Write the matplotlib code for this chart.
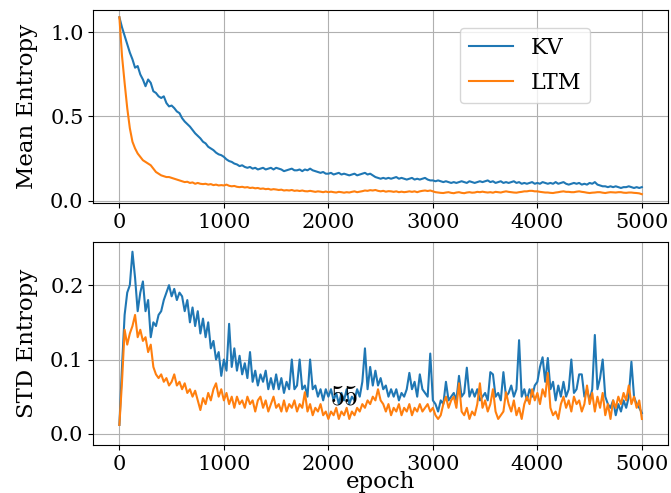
import numpy as np
import matplotlib
matplotlib.use("Agg")
import matplotlib.pyplot as plt

plt.rcParams["font.family"] = ["DejaVu Serif"]
plt.rcParams["font.size"] = 15
plt.rcParams["mathtext.fontset"] = "cm"

# Training curves, logged every 25 epochs
epochs = np.arange(0, 5001, 25)

mean_kv = [
    1.09, 1.03, 0.98, 0.93, 0.88, 0.84, 0.79, 0.80, 0.75, 0.72,
    0.68, 0.72, 0.70, 0.65, 0.64, 0.62, 0.61, 0.62, 0.58, 0.56,
    0.565, 0.55, 0.53, 0.52, 0.49, 0.47, 0.455, 0.44, 0.42, 0.40,
    0.385, 0.37, 0.35, 0.34, 0.32, 0.31, 0.30, 0.285, 0.275, 0.27,
    0.26, 0.245, 0.235, 0.23, 0.22, 0.215, 0.205, 0.21, 0.20, 0.195,
    0.20, 0.19, 0.195, 0.185, 0.19, 0.195, 0.185, 0.19, 0.195, 0.185,
    0.195, 0.19, 0.185, 0.175, 0.18, 0.185, 0.19, 0.18, 0.18, 0.185,
    0.175, 0.185, 0.18, 0.19, 0.18, 0.175, 0.17, 0.165, 0.17, 0.16,
    0.16, 0.165, 0.155, 0.16, 0.165, 0.155, 0.16, 0.155, 0.15, 0.155,
    0.16, 0.15, 0.155, 0.16, 0.165, 0.155, 0.16, 0.15, 0.14, 0.135,
    0.13, 0.135, 0.13, 0.135, 0.13, 0.135, 0.14, 0.13, 0.135, 0.13,
    0.125, 0.13, 0.135, 0.125, 0.13, 0.125, 0.13, 0.135, 0.125, 0.12,
    0.12, 0.115, 0.12, 0.115, 0.11, 0.115, 0.11, 0.105, 0.11, 0.105,
    0.11, 0.115, 0.11, 0.105, 0.115, 0.11, 0.105, 0.11, 0.115, 0.11,
    0.115, 0.12, 0.11, 0.115, 0.105, 0.11, 0.115, 0.105, 0.11, 0.105,
    0.11, 0.115, 0.105, 0.11, 0.10, 0.105, 0.10, 0.105, 0.11, 0.10,
    0.105, 0.10, 0.11, 0.105, 0.10, 0.105, 0.10, 0.11, 0.10, 0.105,
    0.11, 0.10, 0.095, 0.10, 0.105, 0.10, 0.105, 0.095, 0.10, 0.095,
    0.105, 0.10, 0.11, 0.095, 0.09, 0.085, 0.085, 0.08, 0.085, 0.08,
    0.085, 0.08, 0.075, 0.08, 0.08, 0.085, 0.08, 0.075, 0.08, 0.075,
    0.08,
]
mean_ltm = [
    1.09, 0.86, 0.70, 0.55, 0.43, 0.35, 0.31, 0.28, 0.26, 0.24,
    0.23, 0.22, 0.21, 0.19, 0.17, 0.16, 0.15, 0.145, 0.14, 0.14,
    0.135, 0.13, 0.125, 0.12, 0.115, 0.11, 0.112, 0.105, 0.108, 0.10,
    0.105, 0.10, 0.098, 0.10, 0.095, 0.098, 0.092, 0.095, 0.09, 0.092,
    0.09, 0.095, 0.088, 0.085, 0.087, 0.082, 0.08, 0.082, 0.078, 0.08,
    0.075, 0.077, 0.073, 0.075, 0.07, 0.072, 0.068, 0.07, 0.065, 0.068,
    0.066, 0.063, 0.065, 0.06, 0.062, 0.06, 0.063, 0.058, 0.06, 0.057,
    0.06, 0.056, 0.055, 0.058, 0.055, 0.052, 0.055, 0.053, 0.05, 0.054,
    0.05, 0.053, 0.05, 0.048, 0.052, 0.05, 0.047, 0.05, 0.048, 0.052,
    0.055, 0.05, 0.053, 0.056, 0.06, 0.058, 0.062, 0.06, 0.063, 0.058,
    0.055, 0.058, 0.053, 0.056, 0.055, 0.052, 0.055, 0.05, 0.053, 0.05,
    0.052, 0.055, 0.052, 0.055, 0.05, 0.055, 0.058, 0.06, 0.057, 0.06,
    0.055, 0.05, 0.048, 0.046, 0.045, 0.048, 0.05, 0.046, 0.044, 0.048,
    0.05, 0.046, 0.044, 0.048, 0.05, 0.047, 0.048, 0.052, 0.05, 0.053,
    0.05, 0.048, 0.05, 0.047, 0.052, 0.05, 0.048, 0.052, 0.055, 0.052,
    0.05, 0.048, 0.047, 0.05, 0.052, 0.055, 0.055, 0.058, 0.058, 0.055,
    0.055, 0.052, 0.05, 0.048, 0.048, 0.046, 0.045, 0.048, 0.05, 0.053,
    0.055, 0.052, 0.052, 0.05, 0.05, 0.053, 0.055, 0.052, 0.05, 0.047,
    0.045, 0.047, 0.048, 0.05, 0.05, 0.047, 0.045, 0.048, 0.05, 0.049,
    0.048, 0.05, 0.05, 0.047, 0.046, 0.048, 0.048, 0.046, 0.045, 0.043,
    0.038,
]

std_kv = [
    0.012, 0.09, 0.16, 0.19, 0.20, 0.245, 0.21, 0.165, 0.19, 0.205,
    0.165, 0.18, 0.13, 0.15, 0.145, 0.16, 0.165, 0.18, 0.19, 0.20,
    0.185, 0.195, 0.18, 0.19, 0.185, 0.165, 0.18, 0.15, 0.17, 0.145,
    0.165, 0.135, 0.155, 0.13, 0.15, 0.115, 0.125, 0.10, 0.11, 0.078,
    0.10, 0.085, 0.148, 0.09, 0.115, 0.085, 0.105, 0.08, 0.095, 0.075,
    0.11, 0.07, 0.085, 0.065, 0.08, 0.07, 0.085, 0.06, 0.075, 0.06,
    0.08, 0.06, 0.075, 0.055, 0.07, 0.06, 0.10, 0.06, 0.065, 0.10,
    0.06, 0.065, 0.05, 0.10, 0.06, 0.065, 0.05, 0.06, 0.045, 0.06,
    0.05, 0.06, 0.045, 0.055, 0.04, 0.055, 0.045, 0.06, 0.04, 0.05,
    0.045, 0.06, 0.05, 0.07, 0.115, 0.06, 0.09, 0.065, 0.085, 0.065,
    0.075, 0.06, 0.065, 0.05, 0.06, 0.05, 0.06, 0.045, 0.055, 0.05,
    0.06, 0.082, 0.06, 0.07, 0.05, 0.08, 0.06, 0.055, 0.05, 0.108,
    0.045, 0.04, 0.03, 0.045, 0.04, 0.07, 0.045, 0.05, 0.055, 0.045,
    0.078, 0.05, 0.055, 0.089, 0.05, 0.06, 0.05, 0.06, 0.045, 0.05,
    0.055, 0.045, 0.083, 0.08, 0.05, 0.055, 0.045, 0.083, 0.05, 0.055,
    0.065, 0.05, 0.06, 0.126, 0.05, 0.06, 0.045, 0.06, 0.05, 0.065,
    0.07, 0.09, 0.103, 0.07, 0.102, 0.06, 0.07, 0.045, 0.065, 0.05,
    0.07, 0.05, 0.06, 0.10, 0.055, 0.06, 0.08, 0.08, 0.05, 0.06,
    0.045, 0.06, 0.133, 0.06, 0.075, 0.10, 0.05, 0.04, 0.035, 0.045,
    0.025, 0.04, 0.03, 0.045, 0.035, 0.05, 0.097, 0.05, 0.04, 0.035,
    0.028,
]
std_ltm = [
    0.012, 0.07, 0.14, 0.12, 0.135, 0.145, 0.16, 0.13, 0.14, 0.125,
    0.13, 0.11, 0.12, 0.09, 0.08, 0.075, 0.08, 0.07, 0.075, 0.065,
    0.07, 0.08, 0.065, 0.07, 0.06, 0.068, 0.055, 0.06, 0.05, 0.058,
    0.045, 0.032, 0.048, 0.04, 0.055, 0.045, 0.06, 0.068, 0.05, 0.06,
    0.045, 0.055, 0.04, 0.05, 0.035, 0.05, 0.04, 0.045, 0.035, 0.05,
    0.04, 0.045, 0.03, 0.045, 0.05, 0.035, 0.045, 0.03, 0.04, 0.05,
    0.035, 0.04, 0.03, 0.045, 0.03, 0.04, 0.035, 0.045, 0.03, 0.04,
    0.035, 0.056, 0.03, 0.04, 0.025, 0.035, 0.03, 0.04, 0.025, 0.03,
    0.02, 0.03, 0.025, 0.035, 0.02, 0.03, 0.025, 0.035, 0.02, 0.03,
    0.025, 0.035, 0.03, 0.04, 0.035, 0.045, 0.04, 0.05, 0.045, 0.06,
    0.045, 0.04, 0.03, 0.04, 0.025, 0.035, 0.03, 0.04, 0.025, 0.035,
    0.03, 0.04, 0.025, 0.035, 0.03, 0.04, 0.03, 0.035, 0.04, 0.03,
    0.035, 0.025, 0.02, 0.025, 0.04, 0.05, 0.035, 0.045, 0.05, 0.035,
    0.068, 0.03, 0.025, 0.035, 0.02, 0.03, 0.025, 0.04, 0.068, 0.035,
    0.045, 0.03, 0.04, 0.06, 0.03, 0.02, 0.025, 0.03, 0.056, 0.04,
    0.03, 0.045, 0.025, 0.035, 0.02, 0.04, 0.05, 0.04, 0.06, 0.045,
    0.055, 0.04, 0.06, 0.05, 0.082, 0.035, 0.025, 0.03, 0.02, 0.04,
    0.05, 0.035, 0.045, 0.03, 0.05, 0.04, 0.045, 0.03, 0.04, 0.065,
    0.04, 0.055, 0.03, 0.05, 0.035, 0.055, 0.025, 0.04, 0.02, 0.045,
    0.035, 0.05, 0.04, 0.055, 0.045, 0.065, 0.04, 0.05, 0.035, 0.045,
    0.02,
]

series_labels = ["KV", "LTM"]
x_ticks = [0, 1000, 2000, 3000, 4000, 5000]

fig = plt.figure(figsize=(6.71, 4.93), dpi=100)
ax_mean = fig.add_axes([0.139, 0.588, 0.8565, 0.392])
ax_std = fig.add_axes([0.139, 0.0974, 0.8565, 0.4116])

ax_mean.plot(epochs, mean_kv, color="C0", label=series_labels[0])
ax_mean.plot(epochs, mean_ltm, color="C1", label=series_labels[1])
ax_mean.set_ylabel("Mean Entropy", fontsize=16.5, labelpad=9)
ax_mean.set_ylim(-0.015, 1.134)
ax_mean.set_yticks([0.0, 0.5, 1.0])
ax_mean.grid(True)
ax_mean.legend(loc="upper center", bbox_to_anchor=(0.751, 0.964), fontsize=16,
               labelspacing=0.6)

ax_std.plot(epochs, std_kv, color="C0", label=series_labels[0])
ax_std.plot(epochs, std_ltm, color="C1", label=series_labels[1])
ax_std.set_ylabel("STD Entropy", fontsize=16.5, labelpad=9)
ax_std.set_xlabel("epoch", fontsize=16.5, labelpad=-2)
ax_std.set_ylim(-0.015, 0.258)
ax_std.set_yticks([0.0, 0.1, 0.2])
ax_std.grid(True)
ax_std.text(2020, 0.039, "$55$", fontsize=20, ha="left", va="baseline")

for ax in (ax_mean, ax_std):
    ax.set_xticks(x_ticks)
    ax.set_xlim(-250, 5250)

fig.savefig("out.png", dpi=100)
